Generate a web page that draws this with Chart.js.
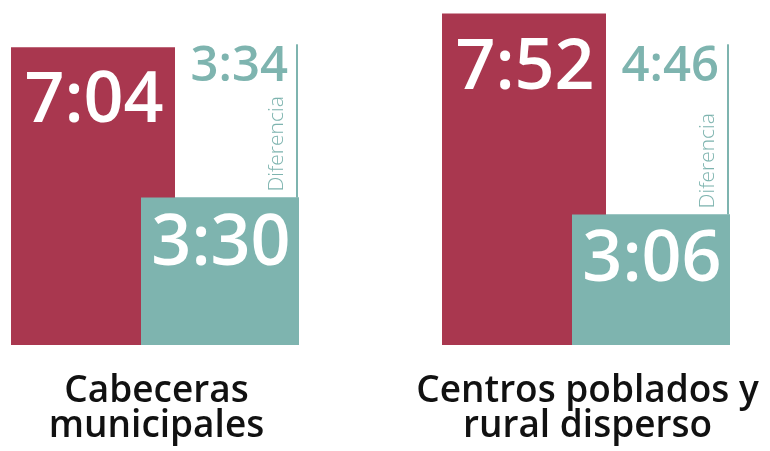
<!DOCTYPE html>
<html><head><meta charset="utf-8">
<script src="https://cdn.jsdelivr.net/npm/chart.js@4/dist/chart.umd.min.js"></script>
<style>html,body{margin:0;padding:0;background:#fff;} #wrap{width:770px;height:451px;}</style>
</head><body><div id="wrap"><canvas id="c" width="770" height="451"></canvas></div>
<script>
// ---- data ----
const categories = [['Cabeceras', 'municipales'], ['Centros poblados y', 'rural disperso']];
const totalMinutes = [424, 472];   // 7:04 , 7:52
const otherMinutes = [210, 186];   // 3:30 , 3:06
const diffLabel = 'Diferencia';

const CRIMSON = '#A9374F', TEAL = '#7EB4AF';
const FONT = '"Open Sans", "Noto Sans", sans-serif';
function fmt(m){ const h = Math.floor(m/60), mm = m % 60; return h + ':' + String(mm).padStart(2,'0'); }

const overlayPlugin = {
  id: 'overlay',
  afterDatasetsDraw(chart){
    const ctx = chart.ctx;
    const mA = chart.getDatasetMeta(0), mB = chart.getDatasetMeta(1);
    mB.controller.draw(); // teal bars over crimson
    const y = chart.scales.y;
    const diffTop = y.getPixelForValue(Math.min(...totalMinutes)) - 3;
    ctx.save();
    ctx.textBaseline = 'alphabetic';
    mA.data.forEach((bar, i) => {
      ctx.fillStyle = '#fff'; ctx.font = '600 70px ' + FONT; ctx.textAlign = 'center';
      ctx.fillText(fmt(totalMinutes[i]), bar.x + 1, bar.y + 75);
    });
    mB.data.forEach((bar, i) => {
      ctx.fillStyle = '#fff'; ctx.font = '600 70px ' + FONT; ctx.textAlign = 'center';
      ctx.fillText(fmt(otherMinutes[i]), bar.x + 1, bar.y + 67);
      const lx = bar.x + bar.width/2 - 2;
      ctx.strokeStyle = TEAL; ctx.lineWidth = 2;
      ctx.beginPath(); ctx.moveTo(lx, diffTop); ctx.lineTo(lx, bar.y); ctx.stroke();
      ctx.fillStyle = TEAL; ctx.font = '600 49px ' + FONT; ctx.textAlign = 'right';
      ctx.fillText(fmt(totalMinutes[i] - otherMinutes[i]), lx - 9, diffTop + 37);
      ctx.save();
      ctx.translate(lx - 20, bar.y - 6); ctx.rotate(-Math.PI/2);
      ctx.font = '300 21px ' + FONT; ctx.textAlign = 'left'; ctx.textBaseline = 'middle';
      ctx.fillText(diffLabel, 0, 0);
      ctx.restore();
    });
    ctx.restore();
  }
};

new Chart(document.getElementById('c'), {
  type: 'bar',
  data: {
    labels: categories,
    datasets: [
      { data: totalMinutes, backgroundColor: CRIMSON, barPercentage: 1.2913, categoryPercentage: 0.5893, clip: false },
      { data: otherMinutes, backgroundColor: TEAL, barPercentage: 1.2441, categoryPercentage: 0.5893, clip: false }
    ]
  },
  options: {
    responsive: false, animation: false, devicePixelRatio: 1,
    layout: { padding: { left: 156.5, right: 182.5, top: 15, bottom: 0 } },
    plugins: { legend: { display: false }, tooltip: { enabled: false } },
    scales: {
      x: {
        offset: false,
        grid: { display: false, drawTicks: false },
        border: { display: false },
        ticks: { color: '#111', font: { family: FONT, size: 37, weight: '600', lineHeight: 0.95 },
                 padding: 29, maxRotation: 0, minRotation: 0, autoSkip: false },
        afterFit(s){ s.height = 106; s.paddingLeft = 0; s.paddingRight = 0; }
      },
      y: { display: false, min: 0, max: 470 }
    }
  },
  plugins: [overlayPlugin]
});
</script>
</body></html>
